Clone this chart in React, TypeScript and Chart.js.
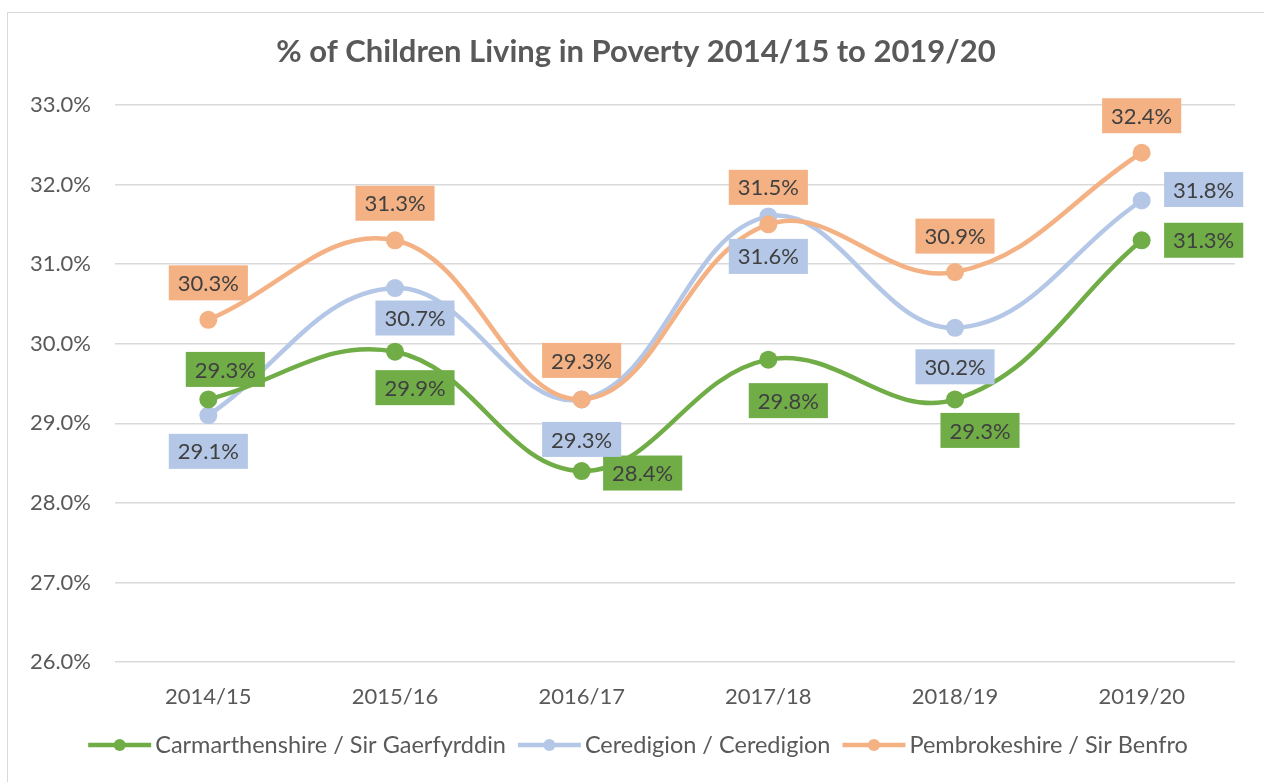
import React, { useEffect, useRef } from "react";
import { Chart, registerables } from "chart.js";

Chart.register(...registerables);

// ---- data ----
const categories = ["2014/15", "2015/16", "2016/17", "2017/18", "2018/19", "2019/20"];
const carmarthenshire = [29.3, 29.9, 28.4, 29.8, 29.3, 31.3];
const ceredigion = [29.1, 30.7, 29.3, 31.6, 30.2, 31.8];
const pembrokeshire = [30.3, 31.3, 29.3, 31.5, 30.9, 32.4];
const seriesNames = [
  "Carmarthenshire / Sir Gaerfyrddin",
  "Ceredigion / Ceredigion",
  "Pembrokeshire / Sir Benfro",
];
const titleText = "% of Children Living in Poverty 2014/15 to 2019/20";
const yMin = 26;
const yMax = 33;

// ---- styling ----
const FONT = "Lato, 'Noto Sans', sans-serif";
const colors = ["#70AD47", "#B4C7E7", "#F4B183"];
const textGrey = "#595959";
// label box offsets (dx, dy) from point centre to box centre
const labelOffsets = [
  [[17, -30], [20, 36], [61, 2], [20, 41], [25, 31], [62, 0]],
  [[0, 36], [20, 30], [0, 40], [0, 40], [0, 39], [62, -11]],
  [[0, -37], [0, -37], [0, -39], [0, -37], [0, -36], [0, -37]],
];

const boxLabels = {
  id: "boxLabels",
  afterDatasetsDraw(chart: any) {
    const ctx = chart.ctx;
    ctx.save();
    ctx.font = `22px ${FONT}`;
    ctx.textAlign = "center";
    ctx.textBaseline = "middle";
    chart.data.datasets.forEach((ds: any, di: number) => {
      const meta = chart.getDatasetMeta(di);
      meta.data.forEach((pt: any, i: number) => {
        const [dx, dy] = labelOffsets[di][i];
        const text = Number(ds.data[i]).toFixed(1) + "%";
        const w = ctx.measureText(text).width + 18;
        const h = 35;
        const cx = pt.x + dx;
        const cy = pt.y + dy;
        ctx.fillStyle = colors[di];
        ctx.fillRect(cx - w / 2, cy - h / 2, w, h);
        ctx.fillStyle = "#404040";
        ctx.fillText(text, cx, cy + 1);
      });
    });
    ctx.restore();
  },
};

const titleAndLegend = {
  id: "titleAndLegend",
  afterDraw(chart: any) {
    const ctx = chart.ctx;
    ctx.save();
    // title
    ctx.font = `bold 31px ${FONT}`;
    ctx.fillStyle = textGrey;
    ctx.textAlign = "center";
    ctx.textBaseline = "middle";
    ctx.fillText(titleText, 636, 52);

    // legend
    ctx.font = `23.5px ${FONT}`;
    const lineW = 63;
    const gapText = 4;
    const gapItem = 12;
    const widths = seriesNames.map((n) => ctx.measureText(n).width);
    const total =
      widths.reduce((a, b) => a + b, 0) + seriesNames.length * (lineW + gapText) + gapItem * (seriesNames.length - 1);
    let x = 638 - total / 2;
    const y = 745;
    ctx.textAlign = "left";
    seriesNames.forEach((n, i) => {
      ctx.strokeStyle = colors[i];
      ctx.lineWidth = 4.5;
      ctx.beginPath();
      ctx.moveTo(x, y);
      ctx.lineTo(x + lineW, y);
      ctx.stroke();
      ctx.fillStyle = colors[i];
      ctx.beginPath();
      ctx.arc(x + lineW / 2, y, 6, 0, Math.PI * 2);
      ctx.fill();
      ctx.fillStyle = textGrey;
      ctx.fillText(n, x + lineW + gapText, y);
      x += lineW + gapText + widths[i] + gapItem;
    });
    ctx.restore();
  },
};

export default function App() {
  const canvasRef = useRef<HTMLCanvasElement | null>(null);

  useEffect(() => {
    let chart: Chart | null = null;
    let cancelled = false;
    const make = () => {
      if (cancelled || !canvasRef.current) return;
      const seriesData = [carmarthenshire, ceredigion, pembrokeshire];
      const orders = [1, 3, 2];
      chart = new Chart(canvasRef.current, {
        type: "line",
        data: {
          labels: categories,
          datasets: seriesData.map((d, i) => ({
            label: seriesNames[i],
            data: d,
            borderColor: colors[i],
            backgroundColor: colors[i],
            borderWidth: 4.5,
            pointRadius: 9,
            pointHoverRadius: 9,
            pointBorderWidth: 0,
            pointBackgroundColor: colors[i],
            tension: 0.4,
            fill: false,
            order: orders[i],
          })),
        },
        options: {
          responsive: false,
          animation: false,
          events: [],
          layout: { padding: { top: 105, right: 29, bottom: 60, left: 0 } },
          plugins: {
            legend: { display: false },
            title: { display: false },
            tooltip: { enabled: false },
          },
          scales: {
            x: {
              offset: true,
              grid: { display: false, offset: true },
              border: { display: false },
              ticks: {
                color: textGrey,
                font: { family: FONT, size: 22 },
                padding: 14,
              },
              afterFit(scale: any) {
                scale.height = 60;
              },
            },
            y: {
              min: yMin,
              max: yMax,
              grid: { color: "#d9d9d9", lineWidth: 1.5, drawTicks: false },
              border: { display: false },
              ticks: {
                stepSize: 1,
                color: textGrey,
                font: { family: FONT, size: 22 },
                padding: 24,
                callback: (v: any) => Number(v).toFixed(1) + "%",
              },
              afterFit(scale: any) {
                scale.width = 115;
              },
            },
          },
        },
        plugins: [boxLabels, titleAndLegend],
      });
    };
    const fontsReady = (document as any).fonts
      ? Promise.all([
          (document as any).fonts.load(`20px Lato`),
          (document as any).fonts.load(`bold 27px Lato`),
        ]).catch(() => null)
      : Promise.resolve(null);
    fontsReady.then(make);
    return () => {
      cancelled = true;
      if (chart) chart.destroy();
    };
  }, []);

  return (
    <div style={{ position: "absolute", left: 0, top: 0, width: 1264, height: 782, background: "#fff", overflow: "hidden" }}>
      <div
        style={{
          position: "absolute",
          left: 7,
          top: 12,
          width: 1300,
          height: 800,
          borderLeft: "1.5px solid #d9d9d9",
          borderTop: "1.5px solid #d9d9d9",
        }}
      />
      <canvas ref={canvasRef} width={1264} height={782} style={{ position: "absolute", left: 0, top: 0, display: "block" }} />
    </div>
  );
}
